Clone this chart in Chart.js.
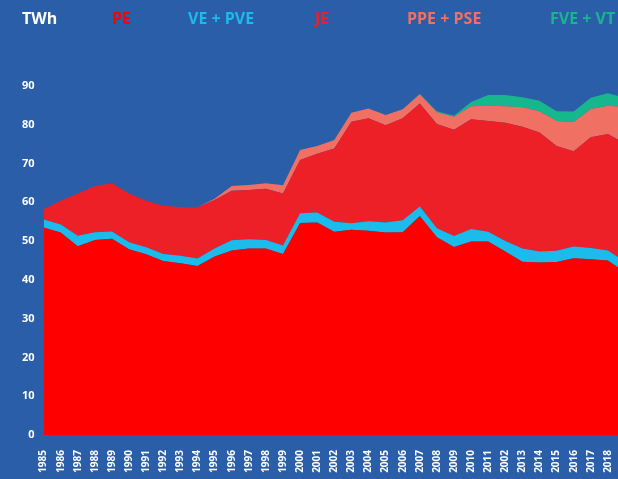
<!DOCTYPE html>
<html>
<head>
<meta charset="utf-8">
<script src="https://cdn.jsdelivr.net/npm/chart.js@4/dist/chart.umd.min.js"></script>
<style>
  html, body { margin: 0; padding: 0; overflow: hidden; background: #2A5EA8; }
  #chart { display: block; }
</style>
</head>
<body>
<canvas id="chart" width="660" height="479"></canvas>
<script>
// years as printed on the axis (the source shows "2002" where 2012 should be)
const years = ["1985", "1986", "1987", "1988", "1989", "1990", "1991", "1992", "1993", "1994",
  "1995", "1996", "1997", "1998", "1999", "2000", "2001", "2002", "2003", "2004",
  "2005", "2006", "2007", "2008", "2009", "2010", "2011", "2002", "2013", "2014",
  "2015", "2016", "2017", "2018", "2019"];

// TWh per source
const pe = [53.5, 52.2, 48.7, 50.3, 50.6, 47.9, 46.6, 44.9, 44.3, 43.6,
  46.0, 47.6, 48.1, 48.1, 46.7, 54.7, 54.8, 52.4, 52.9, 52.7,
  52.2, 52.3, 56.5, 51.0, 48.5, 49.9, 49.9, 47.3, 44.7, 44.5,
  44.6, 45.6, 45.3, 45.0, 42.0];
const vePve = [2.1, 2.1, 2.7, 2.0, 1.9, 1.8, 1.8, 1.8, 1.9, 1.9,
  2.1, 2.6, 2.4, 2.2, 2.2, 2.5, 2.6, 2.6, 1.7, 2.4,
  2.6, 3.1, 2.4, 2.3, 2.8, 3.2, 2.5, 2.7, 3.4, 2.8,
  2.9, 3.0, 2.9, 2.6, 2.7];
const je = [2.6, 6.1, 10.9, 11.9, 12.4, 12.6, 12.0, 12.4, 12.6, 13.2,
  12.5, 12.8, 12.7, 13.2, 13.4, 13.7, 15.1, 18.9, 26.2, 26.6,
  25.1, 26.3, 26.6, 26.9, 27.4, 28.3, 28.6, 30.5, 31.4, 30.7,
  27.0, 24.6, 28.6, 30.0, 30.5];
const ppePse = [0, 0, 0, 0, 0, 0, 0, 0, 0, 0,
  0.3, 1.2, 1.3, 1.4, 2.1, 2.6, 2.0, 2.2, 2.3, 2.5,
  2.6, 2.3, 2.4, 3.0, 3.4, 3.4, 3.9, 4.3, 5.0, 5.5,
  6.5, 7.5, 7.3, 7.3, 9.4];
const fveVt = [0, 0, 0, 0, 0, 0, 0, 0, 0, 0,
  0, 0, 0, 0, 0, 0, 0, 0, 0, 0,
  0, 0, 0.1, 0.3, 0.2, 1.1, 2.8, 2.9, 2.6, 2.7,
  2.5, 2.7, 2.9, 3.2, 2.4];

const seriesNames = ["PE", "VE + PVE", "JE", "PPE + PSE", "FVE + VT"];
const seriesColors = ["#FF0000", "#1BBBEB", "#ED1F27", "#F07064", "#17B78D"];
const unitLabel = "TWh";

document.addEventListener("DOMContentLoaded", () => {
  const ctx = document.getElementById("chart").getContext("2d");
  const values = [pe, vePve, je, ppePse, fveVt];

  const datasets = values.map((data, i) => ({
    label: seriesNames[i],
    data: data,
    backgroundColor: seriesColors[i],
    borderColor: seriesColors[i],
    borderWidth: 0,
    pointRadius: 0,
    tension: 0,
    fill: i === 0 ? "origin" : "-1",
  }));

  // header row: unit + coloured series names, spaced like the original
  const headerPlugin = {
    id: "header",
    afterDraw(chart) {
      const c = chart.ctx;
      const slots = [112, 188, 315, 407, 550];
      c.save();
      c.font = "bold 16px 'Open Sans'";
      c.textBaseline = "alphabetic";
      c.textAlign = "left";
      c.fillStyle = "#FFFFFF";
      c.fillText(unitLabel, 22, 24);
      chart.data.datasets.forEach((ds, i) => {
        c.fillStyle = ds.backgroundColor;
        c.fillText(ds.label, slots[i], 24);
      });
      c.restore();
    },
  };

  new Chart(ctx, {
    type: "line",
    data: { labels: years, datasets: datasets },
    plugins: [headerPlugin],
    options: {
      responsive: false,
      animation: false,
      devicePixelRatio: 1,
      layout: { padding: { top: 86, right: 35, left: 0, bottom: 0 } },
      plugins: {
        legend: { display: false },
        tooltip: { enabled: false },
      },
      scales: {
        x: {
          stacked: true,
          offset: false,
          grid: { display: false, drawTicks: false },
          border: { display: false },
          ticks: {
            color: "#FFFFFF",
            font: { family: "'Open Sans'", size: 10, weight: "bold" },
            minRotation: 90,
            maxRotation: 90,
            autoSkip: false,
            padding: 15,
          },
          afterFit(scale) { scale.height = 44; },
        },
        y: {
          stacked: true,
          min: 0,
          max: 90,
          grid: { display: false, drawTicks: false },
          border: { display: false },
          ticks: {
            stepSize: 10,
            color: "#FFFFFF",
            font: { family: "'Open Sans'", size: 11, weight: "bold" },
            padding: 9,
          },
          afterFit(scale) { scale.width = 43.6; },
        },
      },
    },
  });
});
</script>
</body>
</html>
